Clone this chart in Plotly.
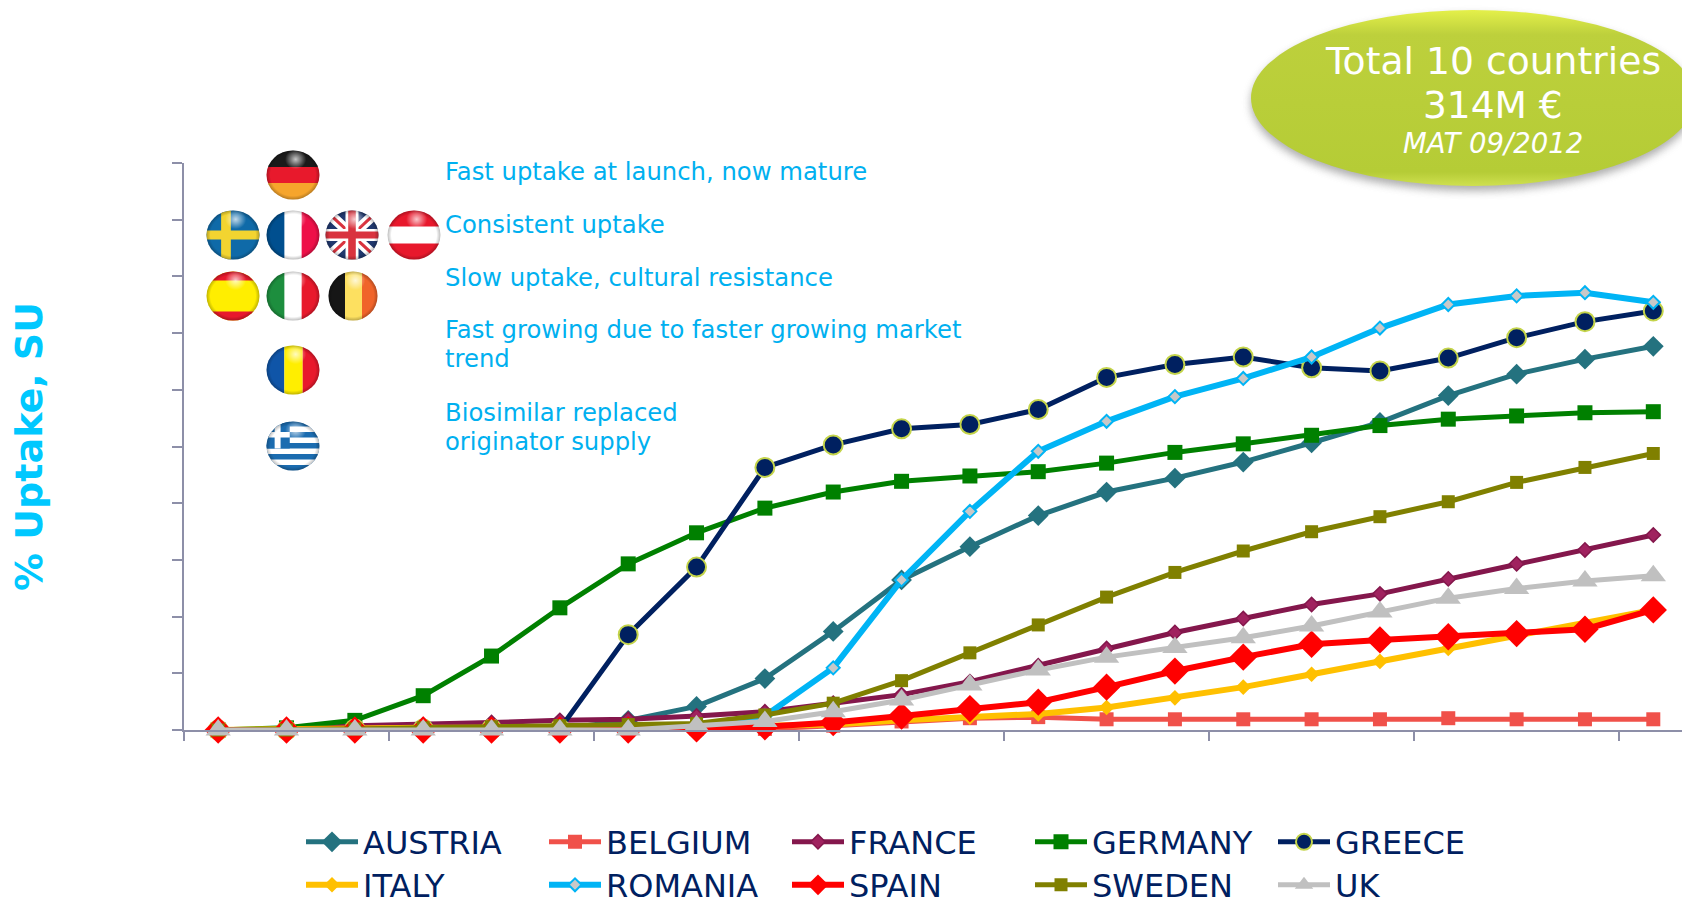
import base64
import plotly.graph_objects as go

W, H = 1682, 904
def px(x): return x / W
def py(y): return 1 - y / H
def disp(y): return round((681 - y) / 5.29, 2)

periods = list(range(22))
austria = [disp(v) for v in [681,681,681,681,681,680,672,659,633,589,541,510,481,459,446,431,413,394,369,349,335,323]]
belgium = [disp(v) for v in [681,681,681,681,681,681,680,680,680,677,673,670,669,671,671,671,671,671,670,671,671,671]]
france = [disp(v) for v in [681,680,677,676,674,672,671,668,664,656,648,636,621,605,590,577,564,554,540,526,513,499]]
germany = [disp(v) for v in [681,679,672,649,612,567,526,497,474,459,449,444,440,432,422,414,406,397,391,388,385,384]]
greece = [disp(v) for v in [681,681,680,680,680,680,592,529,436,415,400,396,382,352,340,333,343,346,334,315,300,290]]
italy = [disp(v) for v in [681,680,679,679,679,679,679,678,677,676,672,669,666,660,651,641,629,617,605,593,582,569]]
romania = [disp(v) for v in [681,681,681,681,681,681,681,681,668,623,541,477,421,393,370,353,333,306,284,276,273,282]]
spain = [disp(v) for v in [681,681,681,681,681,681,681,680,678,674,668,661,655,641,626,613,601,597,594,591,587,569]]
sweden = [disp(v) for v in [681,681,680,679,678,677,676,675,667,656,635,609,583,557,534,514,496,482,468,450,436,423]]
uk = [disp(v) for v in [681,681,681,681,681,681,681,677,673,664,653,639,625,613,604,595,584,571,558,549,542,537]]

series = [
    ("AUSTRIA", austria, "#24727f", "#24727f", "diamond", 16, 0, 5, "legend"),
    ("BELGIUM", belgium, "#f0514a", "#f0514a", "square", 14, 0, 5, "legend"),
    ("FRANCE", france, "#84174c", "#a0225f", "diamond", 11, 1.5, 5, "legend"),
    ("GERMANY", germany, "#008000", "#008000", "square", 15, 0, 5, "legend"),
    ("GREECE", greece, "#002060", "#002060", "circle", 19, 2, 5, "legend"),
    ("ITALY", italy, "#ffc000", "#ffc000", "diamond", 12, 0, 6, "legend2"),
    ("ROMANIA", romania, "#00b4f5", "#c8c8c8", "diamond", 10, 2, 6, "legend2"),
    ("SPAIN", spain, "#ff0000", "#ff0000", "diamond", 21, 0, 6, "legend2"),
    ("SWEDEN", sweden, "#808000", "#808000", "square", 13, 0, 5, "legend2"),
    ("UK", uk, "#c0c0c0", "#c0c0c0", "triangle-up", 22, 0, 5, "legend2"),
]

fig = go.Figure()
for name, vals, color, fill, sym, size, edge_w, line_w, leg in series:
    edge = "#c4d44a" if name == "GREECE" else color
    fig.add_trace(go.Scatter(
        x=periods, y=vals, name=name, mode="lines+markers", legend=leg, cliponaxis=False,
        line=dict(color=color, width=line_w),
        marker=dict(symbol=sym, size=size, color=fill, line=dict(color=edge, width=edge_w)),
    ))

AXIS = "#8d8fa8"
LEGEND_FONT = dict(family="DejaVu Sans", size=32, color="#002060")
LEGEND_X = px(301)
fig.update_layout(
    width=W, height=H, autosize=False,
    margin=dict(l=0, r=0, t=0, b=0, pad=0, autoexpand=False),
    paper_bgcolor="white", plot_bgcolor="white",
    xaxis=dict(domain=[px(184), 1], range=[-0.5, 21.42], tickmode="array",
               tickvals=[-0.5 + 3 * i for i in range(8)], ticks="outside", ticklen=9, tickwidth=1.5,
               tickcolor=AXIS, showticklabels=False, showgrid=False, zeroline=False,
               showline=True, linecolor=AXIS, linewidth=2),
    yaxis=dict(domain=[py(730), py(163)], range=[0, 100], tickmode="array",
               tickvals=list(range(0, 101, 10)), ticks="outside", ticklen=10, tickwidth=1.5,
               tickcolor=AXIS, showticklabels=False, showgrid=False, zeroline=False,
               showline=True, linecolor=AXIS, linewidth=2,
               title=dict(text="<b>% Uptake, SU</b>", standoff=118,
                          font=dict(family="DejaVu Sans", size=38, color="#00c8ff"))),
    legend=dict(orientation="h", x=LEGEND_X, y=py(842), xanchor="left", yanchor="middle",
                entrywidth=176, entrywidthmode="pixels", itemwidth=52, font=LEGEND_FONT,
                bgcolor="rgba(0,0,0,0)", traceorder="normal", itemclick=False),
    legend2=dict(orientation="h", x=LEGEND_X, y=py(885), xanchor="left", yanchor="middle",
                 entrywidth=176, entrywidthmode="pixels", itemwidth=52, font=LEGEND_FONT,
                 bgcolor="rgba(0,0,0,0)", traceorder="normal", itemclick=False),
)

def svg_uri(svg):
    return "data:image/svg+xml;base64," + base64.b64encode(svg.encode()).decode()

GLOSS = ('<radialGradient id="g" cx="0.55" cy="0.18" r="0.2"><stop offset="0" stop-color="white" stop-opacity="0.75"/>'
         '<stop offset="1" stop-color="white" stop-opacity="0"/></radialGradient>'
         '<radialGradient id="e" cx="0.5" cy="0.5" r="0.5"><stop offset="0.85" stop-color="black" stop-opacity="0"/>'
         '<stop offset="1" stop-color="black" stop-opacity="0.25"/></radialGradient>')

def flag(body):
    return svg_uri(
        f'<svg xmlns="http://www.w3.org/2000/svg" width="100" height="100" viewBox="0 0 100 100"><defs>{GLOSS}'
        '<clipPath id="c"><circle cx="50" cy="50" r="49"/></clipPath></defs>'
        f'<g clip-path="url(#c)"><rect width="100" height="100" fill="white"/>{body}</g>'
        '<circle cx="50" cy="50" r="49" fill="url(#e)"/><circle cx="50" cy="50" r="49" fill="url(#g)"/></svg>')

def r(x, y, w, h, c):
    return f'<rect x="{x}" y="{y}" width="{w}" height="{h}" fill="{c}"/>'

union = (r(0,0,100,100,"#20386e")
         + '<path d="M0 0L100 100M100 0L0 100" stroke="white" stroke-width="20"/>'
         + '<path d="M0 0L100 100M100 0L0 100" stroke="#d9333f" stroke-width="6"/>'
         + r(38,0,24,100,"white") + r(0,38,100,24,"white") + r(43,0,14,100,"#d9333f") + r(0,43,100,14,"#d9333f"))
greek = (r(0,0,100,100,"#1b6cb0") + "".join(r(0, y, 100, 11, "white") for y in (11, 33, 55, 77))
         + r(0,0,44,55,"#1b6cb0") + r(16,0,11,55,"white") + r(0,22,44,11,"white"))

flags = [
    (r(0,0,100,34,"#1a1a1a") + r(0,34,100,32,"#e8192c") + r(0,66,100,34,"#f6a52c"), 293, 175, 27),
    (r(0,0,100,100,"#0f6aa8") + r(28,0,18,100,"#f2d430") + r(0,41,100,18,"#f2d430"), 233, 235, 27),
    (r(0,0,34,100,"#004f8f") + r(66,0,34,100,"#ee1048"), 293, 235, 27),
    (union, 352, 235, 27),
    (r(0,0,100,33,"#e8182c") + r(0,67,100,33,"#e8182c"), 414, 235, 27),
    (r(0,0,100,100,"#ffee00") + r(0,0,100,19,"#e8192c") + r(0,81,100,19,"#e8192c"), 233, 296, 27),
    (r(0,0,34,100,"#1d8e3e") + r(66,0,34,100,"#e8192c"), 293, 296, 27),
    (r(0,0,34,100,"#161616") + r(34,0,34,100,"#fde060") + r(68,0,32,100,"#f0642a"), 353, 296, 25),
    (r(0,0,34,100,"#0f55a8") + r(34,0,34,100,"#ffee00") + r(68,0,32,100,"#e8192c"), 293, 370, 27),
    (greek, 293, 446, 27),
]
images = [dict(source=flag(b), xref="paper", yref="paper", x=px(cx - rad), y=py(cy - 25),
               sizex=2 * rad / W, sizey=50 / H, sizing="stretch", xanchor="left", yanchor="top", layer="above")
          for b, cx, cy, rad in flags]

oval = svg_uri(
    '<svg xmlns="http://www.w3.org/2000/svg" width="480" height="200" viewBox="0 0 480 200"><defs>'
    '<linearGradient id="t" x1="0" y1="0" x2="0" y2="1"><stop offset="0" stop-color="#e4f04a"/>'
    '<stop offset="0.14" stop-color="#bdd03c"/><stop offset="0.92" stop-color="#b5cc36"/><stop offset="1" stop-color="#cfe050"/></linearGradient>'
    '<filter id="s" x="-10%" y="-10%" width="120%" height="130%"><feGaussianBlur stdDeviation="4"/></filter></defs>'
    '<ellipse cx="233" cy="103" rx="222" ry="88" fill="#777" opacity="0.6" filter="url(#s)"/>'
    '<ellipse cx="233" cy="98" rx="222" ry="88" fill="url(#t)"/></svg>')
images.append(dict(source=oval, xref="paper", yref="paper", x=px(1240), y=py(0), sizex=480 / W, sizey=200 / H,
                   sizing="stretch", xanchor="left", yanchor="top", layer="below"))
fig.update_layout(images=images)

BLUE = "#00b0f0"
notes = [
    ("Fast uptake at launch, now mature", 172),
    ("Consistent uptake", 225),
    ("Slow uptake, cultural resistance", 277.5),
    ("Fast growing due to faster growing market", 330),
    ("trend", 358.5),
    ("Biosimilar replaced", 412.5),
    ("originator supply", 441),
]
for text, y in notes:
    fig.add_annotation(text=text, x=px(443), y=py(y), xref="paper", yref="paper", xanchor="left", yanchor="middle",
                       align="left", showarrow=False, font=dict(family="DejaVu Sans", size=24.3, color=BLUE))
for text, y, size in [("Total 10 countries", 61, 37.7), ("314M €", 105, 37.5), ("<i>MAT 09/2012</i>", 143, 27.5)]:
    fig.add_annotation(text=text, x=px(1493), y=py(y), xref="paper", yref="paper", xanchor="center", yanchor="middle",
                       showarrow=False, font=dict(family="DejaVu Sans", size=size, color="white"))

fig.write_html("out.html", config={"displayModeBar": False},
               post_script="document.body.style.margin='0';document.body.style.overflow='hidden';")
